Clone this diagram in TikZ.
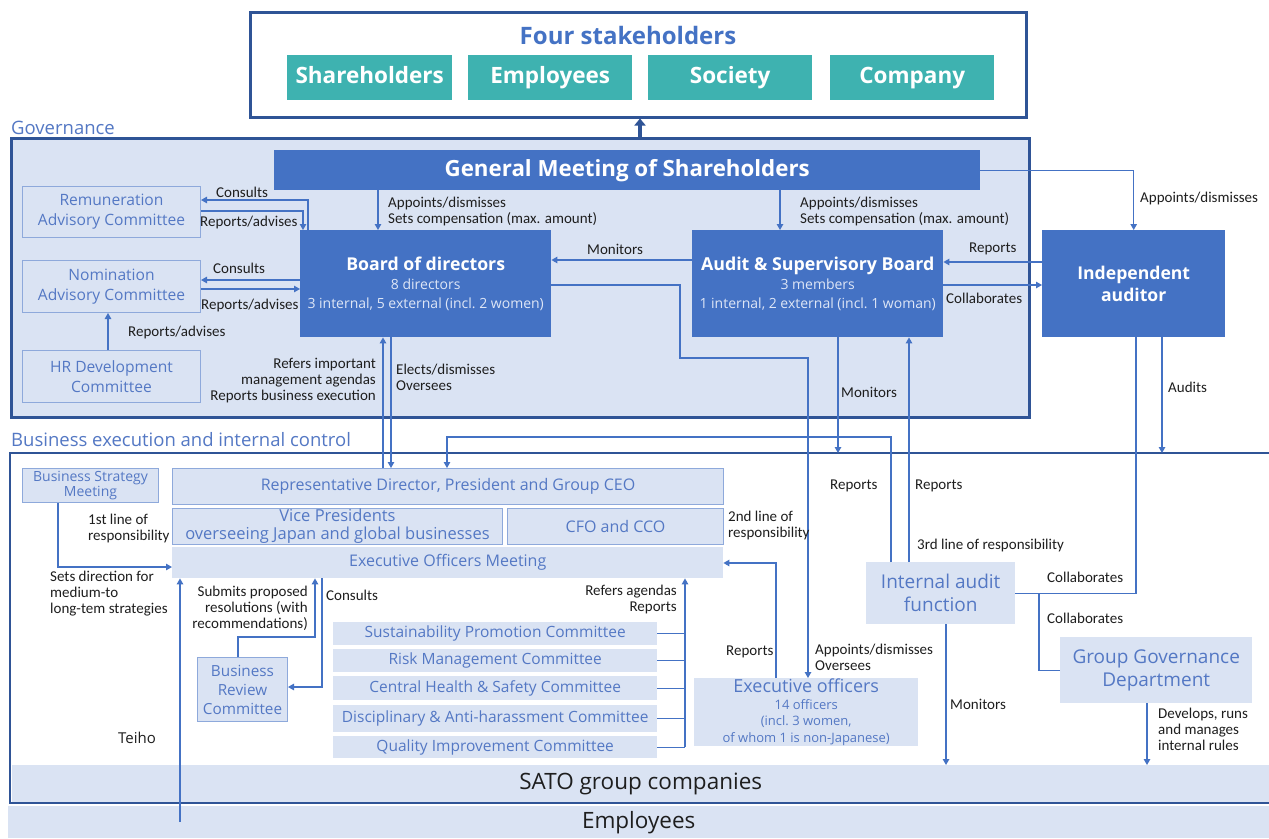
\documentclass[tikz,border=0pt]{standalone}
\usepackage{fontspec}
\setmainfont{Open Sans}
\newfontfamily\labfont{Carlito}
\usetikzlibrary{arrows.meta}
\definecolor{navy}{RGB}{47,84,150}
\definecolor{accent}{RGB}{68,114,196}
\definecolor{lfill}{RGB}{218,227,243}
\definecolor{lborder}{RGB}{142,169,219}
\definecolor{ltext}{RGB}{84,120,196}
\definecolor{stkteal}{RGB}{62,178,176}
\definecolor{labgray}{RGB}{30,30,30}
\definecolor{subwhite}{RGB}{222,230,246}
\newcommand\myfs[2]{\fontsize{#1}{#2}\selectfont}
\begin{document}
\begin{tikzpicture}[x=1pt,y=-1pt,
 arr/.style={draw=accent, line width=1.2pt, -{Triangle[length=6pt,width=6.5pt]}},
 ln/.style={draw=accent, line width=1.2pt},
 lab/.style={text=labgray, font=\labfont\myfs{15}{16}, inner sep=0pt, align=left},
 bbox/.style={fill=accent, text=white, inner sep=0pt, align=center, anchor=north west},
 lbox/.style={fill=lfill, draw=lborder, line width=1pt, text=ltext, inner sep=0pt, align=center, anchor=north west},
 fbox/.style={fill=lfill, text=ltext, inner sep=0pt, align=center, anchor=north west},
 frame/.style={draw=navy, line width=2.5pt, inner sep=0pt, anchor=north west},
 stk/.style={fill=stkteal, text=white, inner sep=0pt, anchor=north west, minimum width=165pt, minimum height=45pt, font=\bfseries\myfs{22.5}{24}, text height=16pt, text depth=5pt},
 cmt/.style={fbox, minimum width=324pt, font=\myfs{15.5}{16}, text height=11.5pt, text depth=3.5pt}
 ]
\useasboundingbox[fill=white] (0,0) rectangle (1269,838);

% ---------- stakeholders ----------
\node[frame, fill=white, minimum width=776pt, minimum height=105pt] (stkbox) at (249,11) {};
\node[text=accent, font=\bfseries\myfs{24}{28}, inner sep=0pt] (stktitle) at (628,35) {Four stakeholders};
\node[stk] (sh) at (287,55) {Shareholders};
\node[stk, minimum width=164pt] (em) at (468,55) {Employees};
\node[stk, minimum width=164pt] (so) at (648,55) {Society};
\node[stk, minimum width=164pt] (co) at (830,55) {Company};

% ---------- governance ----------
\node[frame, fill=lfill, minimum width=1018pt, minimum height=279pt] (gov) at (10,137) {};
\node[text=ltext, font=\myfs{18.5}{20}, inner sep=0pt, anchor=base west] (govlab) at (11,134) {Governance};
\draw[navy, line width=4pt, -{Triangle[length=7pt,width=11pt]}] (640,0 |- gov.north) -- (640,0 |- stkbox.south);

\node[bbox, minimum width=706pt, minimum height=40pt, font=\bfseries\myfs{22.3}{24}] (gms) at (274,150) {General Meeting of Shareholders};
\node[lbox, minimum width=178pt, minimum height=51pt, font=\myfs{15.6}{20}] (rem) at (22,186) {Remuneration\\Advisory Committee};
\node[lbox, minimum width=178pt, minimum height=52pt, font=\myfs{15.6}{20}] (nom) at (22,260) {Nomination\\Advisory Committee};
\node[lbox, minimum width=178pt, minimum height=52pt, font=\myfs{15.6}{20}] (hr) at (22,350) {HR Development\\Committee};
\node[bbox, minimum width=251pt, minimum height=107pt, font=\myfs{14}{19}] (bod) at (300,230)
  {{\bfseries\myfs{17.7}{19}Board of directors}\\{\color{subwhite}8 directors}\\{\color{subwhite}3 internal, 5 external (incl.\ 2 women)}};
\node[bbox, minimum width=251pt, minimum height=107pt, font=\myfs{14}{19}] (asb) at (692,230)
  {{\bfseries\myfs{17.8}{19}Audit \& Supervisory Board}\\{\color{subwhite}3 members}\\{\color{subwhite}1 internal, 2 external (incl.\ 1 woman)}};
\node[bbox, minimum width=183pt, minimum height=107pt, font=\bfseries\myfs{17.6}{22}] (ia) at (1042,230) {Independent\\auditor};

% governance connectors
\draw[arr] (308,0 |- bod.north) |- (rem.east |- 0,200);
\draw[arr] (rem.east |- 0,211) -| (303,0 |- bod.north);
\draw[arr] (bod.west |- 0,280) -- (nom.east |- 0,280);
\draw[arr] (nom.east |- 0,289) -- (bod.west |- 0,289);
\draw[arr] (108,0 |- hr.north) -- (108,0 |- nom.south);
\draw[arr] (378,0 |- gms.south) -- (378,0 |- bod.north);
\draw[arr] (780,0 |- gms.south) -- (780,0 |- asb.north);
\draw[arr] (gms.east) -| (ia.north);
\draw[arr] (asb.west |- 0,260) -- (bod.east |- 0,260);
\draw[arr] (ia.west |- 0,262) -- (asb.east |- 0,262);
\draw[arr] (asb.east |- 0,285) -- (ia.west |- 0,285);

% governance labels
\node[lab, anchor=west] (l1) at (216,192) {Consults};
\node[lab, anchor=west] (l2) at (200,222) {Reports/advises};
\node[lab, anchor=west] (l3) at (213,268) {Consults};
\node[lab, anchor=west] (l4) at (201,305) {Reports/advises};
\node[lab, anchor=west] (l5) at (128,332) {Reports/advises};
\node[lab, anchor=west] (l6) at (388,211) {Appoints/dismisses\\Sets compensation (max. amount)};
\node[lab, anchor=west] (l7) at (800,211) {Appoints/dismisses\\Sets compensation (max. amount)};
\node[lab, anchor=west] (l8) at (1140,198) {Appoints/dismisses};
\node[lab, anchor=west] (l9) at (587,249) {Monitors};
\node[lab, anchor=west] (l10) at (969,249) {Reports};
\node[lab, anchor=west] (l11) at (946,298) {Collaborates};
\node[lab, anchor=east, align=right] (l12) at (376,381) {Refers important\\management agendas\\Reports business execution};
\node[lab, anchor=west] (l13) at (396,377) {Elects/dismisses\\Oversees};
\node[lab, anchor=west] (l14) at (841,392) {Monitors};
\node[lab, anchor=west] (l15) at (1168,387) {Audits};

% ---------- business execution ----------
\node[text=ltext, font=\myfs{18.5}{20}, inner sep=0pt, anchor=base west] (bizlab) at (11,446) {Business execution and internal control};
\node[fill=lfill, inner sep=0pt, anchor=north west, minimum width=1257pt, minimum height=37pt, text=labgray, font=\myfs{22.5}{24}] (sato) at (12,765) {SATO group companies};
\node[fill=lfill, inner sep=0pt, anchor=north west, minimum width=1261pt, minimum height=32pt, text=labgray, font=\myfs{22.5}{24}] (emp) at (8,806) {Employees};
\draw[navy, line width=2.5pt] (1269,453) -- (10,453) -- (10,803) -- (1269,803);
\coordinate (biztop) at (640,453);

\node[lbox, minimum width=136pt, minimum height=34pt, font=\myfs{14}{15}] (bsm) at (22,468) {Business Strategy\\Meeting};
\node[lbox, minimum width=551pt, minimum height=36pt, font=\myfs{16}{17}] (rd) at (172,468) {Representative Director, President and Group CEO};
\node[lbox, minimum width=330pt, minimum height=36pt, font=\myfs{16.5}{18}] (vp) at (172,508) {Vice Presidents\\overseeing Japan and global businesses};
\node[lbox, minimum width=216pt, minimum height=36pt, font=\myfs{16}{17}] (cfo) at (507,508) {CFO and CCO};
\node[fbox, minimum width=551pt, minimum height=31pt, font=\myfs{16}{17}] (eom) at (172,547) {Executive Officers Meeting};
\node[cmt, minimum height=23pt] (c1) at (333,622) {Sustainability Promotion Committee};
\node[cmt, minimum height=23pt] (c2) at (333,649) {Risk Management Committee};
\node[cmt, minimum height=24pt] (c3) at (333,676) {Central Health \& Safety Committee};
\node[cmt, minimum height=27pt] (c4) at (333,705) {Disciplinary \& Anti-harassment Committee};
\node[cmt, minimum height=22pt] (c5) at (333,736) {Quality Improvement Committee};
\node[lbox, minimum width=90pt, minimum height=64pt, font=\myfs{15.3}{19}] (brc) at (197,657) {Business\\Review\\Committee};
\node[fbox, minimum width=224pt, minimum height=68pt, font=\myfs{13}{16.5}] (eo) at (694,678)
  {{\myfs{18}{19}Executive officers}\\14 officers\\(incl.\ 3 women,\\of whom 1 is non-Japanese)};
\node[fbox, minimum width=149pt, minimum height=62pt, font=\myfs{19}{23}] (iaf) at (866,562) {Internal audit\\function};
\node[fbox, minimum width=192pt, minimum height=66pt, font=\myfs{19}{23}] (ggd) at (1060,637) {Group Governance\\Department};

% cross-section connectors
\draw[arr] (383,0 |- rd.north) -- (383,0 |- bod.south);
\draw[arr] (391,0 |- bod.south) -- (391,0 |- rd.north);
\draw[arr] (bod.east |- 0,285) -- (680,285) -- (680,358) -- (808,358) -- (808,0 |- eo.north);
\draw[arr] (838,0 |- asb.south) -- (838,0 |- biztop);
\draw[arr] (1162,0 |- ia.south) -- (1162,0 |- biztop);
\draw[arr] (909,0 |- iaf.north) -- (909,0 |- asb.south);
\draw[arr] (891,0 |- iaf.north) |- (447,437) -- (447,0 |- rd.north);
\draw[ln] (iaf.east) -| (1136,0 |- ia.south);
\draw[ln] (1039,0 |- iaf.east) |- (ggd.west);
\draw[arr] (946,0 |- iaf.south) -- (946,0 |- sato.north);
\draw[arr] (1147,0 |- ggd.south) -- (1147,0 |- sato.north);

% business connectors
\draw[arr] (58,0 |- bsm.south) |- (eom.west |- 0,567);
\draw[arr] (180,0 |- emp.center) -- (180,0 |- eom.south);
\draw[arr] (238,0 |- brc.north) |- (315,637) -- (315,0 |- eom.south);
\draw[arr] (322,0 |- eom.south) |- (brc.east |- 0,687);
\foreach \c in {c1,c2,c3,c4,c5} \draw[ln] (\c.east) -- (685,0 |- \c.east);
\draw[arr] (685,0 |- c5.east) -- (685,0 |- eom.south);
\draw[arr] (776,0 |- eo.north) |- (eom.east |- 0,563);

% business labels
\node[lab, anchor=west] (b1) at (88,528) {1st line of\\responsibility};
\node[lab, anchor=west] (b2) at (50,594) {Sets direction for\\medium-to\\long-tem strategies};
\node[lab, anchor=east, align=right] (b3) at (308,608) {Submits proposed\\resolutions (with\\recommendations)};
\node[lab, anchor=west] (b4) at (326,595) {Consults};
\node[lab, anchor=east, align=right] (b5) at (677,599) {Refers agendas\\Reports};
\node[lab, anchor=west] (b6) at (728,525) {2nd line of\\responsibility};
\node[lab, anchor=west] (b7) at (726,652) {Reports};
\node[lab, anchor=west] (b8) at (815,657) {Appoints/dismisses\\Oversees};
\node[lab, anchor=west] (b9) at (830,486) {Reports};
\node[lab, anchor=west] (b10) at (915,486) {Reports};
\node[lab, anchor=west] (b11) at (917,545) {3rd line of responsibility};
\node[lab, anchor=west] (b12) at (1047,577) {Collaborates};
\node[lab, anchor=west] (b13) at (1047,618) {Collaborates};
\node[lab, anchor=west] (b14) at (950,704) {Monitors};
\node[lab, anchor=west] (b15) at (1158,729) {Develops, runs\\and manages\\internal rules};
\node[text=labgray, font=\myfs{15}{18}, inner sep=0pt, anchor=west] (teiho) at (118,738) {Teiho};
\end{tikzpicture}
\end{document}
